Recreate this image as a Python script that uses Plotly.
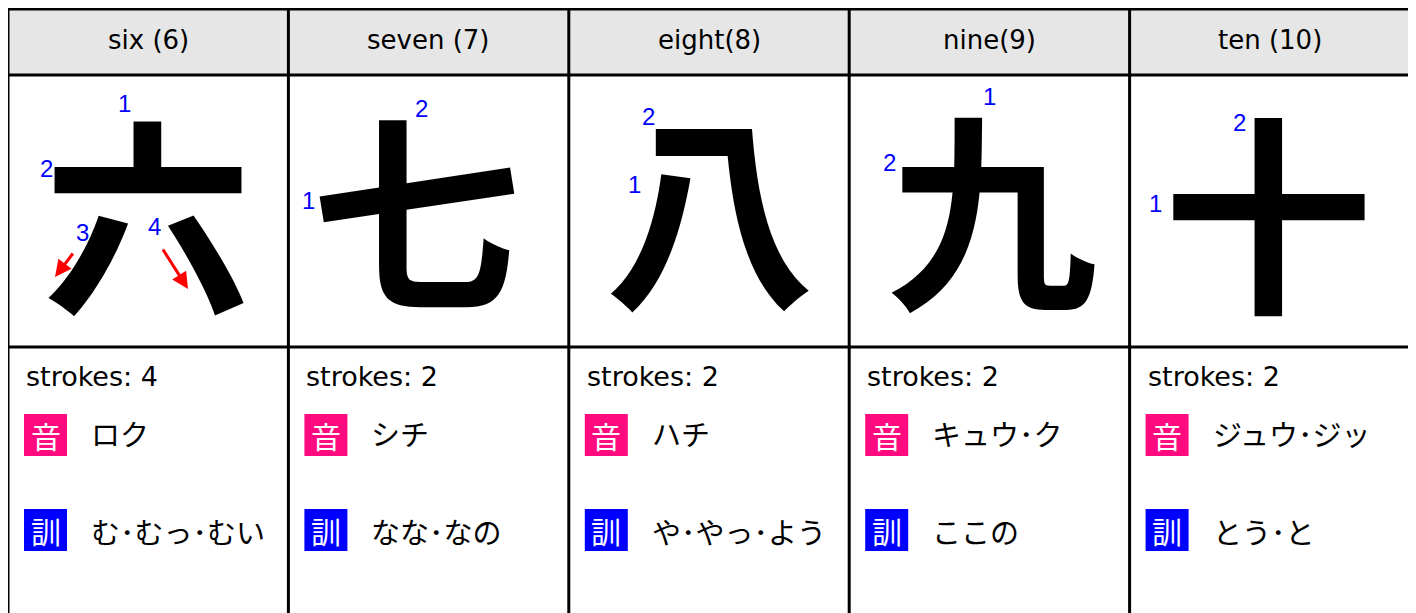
import plotly.graph_objects as go

# ---- data ----
HEADERS = ["six (6)", "seven (7)", "eight(8)", "nine(9)", "ten (10)"]
KANJI = ["六", "七", "八", "九", "十"]
STROKES = [4, 2, 2, 2, 2]
ON_READINGS = ["ロク", "シチ", "ハチ", "キュウ･ク", "ジュウ･ジッ"]
KUN_READINGS = ["む･むっ･むい", "なな･なの", "や･やっ･よう", "ここの", "とう･と"]

# ---- layout constants (pixels, page coordinates) ----
W, H = 1416, 613
PAD = 8  # browser body margin, the figure starts at (8, 8)
X0, X1 = 8, 1410
Y_TOP, Y_HEAD, Y_KANJI, Y_BOT = 9, 75, 347, 640
COL_W = (X1 - X0) / len(KANJI)

FONT = "Noto Sans CJK JP"
LATIN = "DejaVu Sans"
PINK = "#ff0a7f"
BLUE = "#0000ff"
HEAD_BG = "#e6e6e6"

# stroke-order number labels (number, x offset from column left, y)
STROKE_NUMS = [
  [(1, 116, 103), (2, 38, 168), (3, 74, 232), (4, 146, 226)],
  [(2, 133, 108), (1, 20, 200)],
  [(2, 80, 116), (1, 66, 184)],
  [(1, 140, 96), (2, 40, 162)],
  [(2, 110, 122), (1, 26, 203)],
]
GLYPH_SHIFT = [(0, -3), (-13, -8), (1, -10), (3, -9), (-2, -6)]

fig = go.Figure()

shapes = []
annotations = []

# header background
shapes.append(dict(type="rect", x0=X0, x1=X1, y0=Y_TOP, y1=Y_HEAD,
                   fillcolor=HEAD_BG, line_width=0, layer="below"))

for i, (head, kanji, n, on, kun) in enumerate(zip(HEADERS, KANJI, STROKES, ON_READINGS, KUN_READINGS)):
  left = X0 + i * COL_W
  cx = left + COL_W / 2

  annotations.append(dict(x=cx, y=(Y_TOP + Y_HEAD) / 2 - 2, text=head, showarrow=False,
                          font=dict(family=LATIN, size=26, color="black")))

  dx, dy = GLYPH_SHIFT[i]
  annotations.append(dict(x=cx + dx, y=(Y_HEAD + Y_KANJI) / 2 + dy, text=kanji, showarrow=False,
                          font=dict(family=FONT, size=210, color="black", weight="bold")))

  for num, ox, oy in STROKE_NUMS[i]:
    annotations.append(dict(x=left + ox, y=oy, text=str(num), showarrow=False,
                            font=dict(family="Liberation Sans", size=24, color=BLUE)))

  annotations.append(dict(x=left + 16, y=376, text=f"strokes: {n}", showarrow=False,
                          xanchor="left", font=dict(family=LATIN, size=27, color="black")))

  # on-reading badge
  shapes.append(dict(type="rect", x0=left + 16, x1=left + 59, y0=414, y1=456,
                     fillcolor=PINK, line_width=0))
  annotations.append(dict(x=left + 37.5, y=435, text="音", showarrow=False,
                          font=dict(family=FONT, size=30, color="white")))
  annotations.append(dict(x=left + 81, y=433, text=on, showarrow=False, xanchor="left",
                          font=dict(family=FONT, size=29, color="black")))

  # kun-reading badge
  shapes.append(dict(type="rect", x0=left + 16, x1=left + 59, y0=509, y1=551,
                     fillcolor=BLUE, line_width=0))
  annotations.append(dict(x=left + 37.5, y=530, text="訓", showarrow=False,
                          font=dict(family=FONT, size=30, color="white")))
  annotations.append(dict(x=left + 81, y=531, text=kun, showarrow=False, xanchor="left",
                          font=dict(family=FONT, size=29, color="black")))

# red stroke-direction arrows for 六
for (ax, ay, x, y) in [(74, 252, 55, 277), (162, 248, 188, 289)]:
  annotations.append(dict(x=x, y=y, ax=ax, ay=ay, axref="x", ayref="y", text="",
                          showarrow=True, arrowhead=2, arrowsize=1.1, arrowwidth=3,
                          arrowcolor="#ff0000"))

# grid lines
for yy in [Y_TOP, Y_HEAD, Y_KANJI]:
  shapes.append(dict(type="line", x0=X0, x1=X1, y0=yy, y1=yy, line=dict(color="black", width=3)))
for i in range(len(KANJI) + 1):
  xx = X0 + i * COL_W
  shapes.append(dict(type="line", x0=xx, x1=xx, y0=Y_TOP, y1=Y_BOT, line=dict(color="black", width=3)))

fig.update_layout(
  width=W - PAD, height=H - PAD,
  margin=dict(l=0, r=0, t=0, b=0),
  paper_bgcolor="white", plot_bgcolor="white",
  xaxis=dict(range=[PAD, W], visible=False, fixedrange=True),
  yaxis=dict(range=[H, PAD], visible=False, fixedrange=True),
  shapes=shapes, annotations=annotations,
  showlegend=False,
)

fig.write_html("out.html")
